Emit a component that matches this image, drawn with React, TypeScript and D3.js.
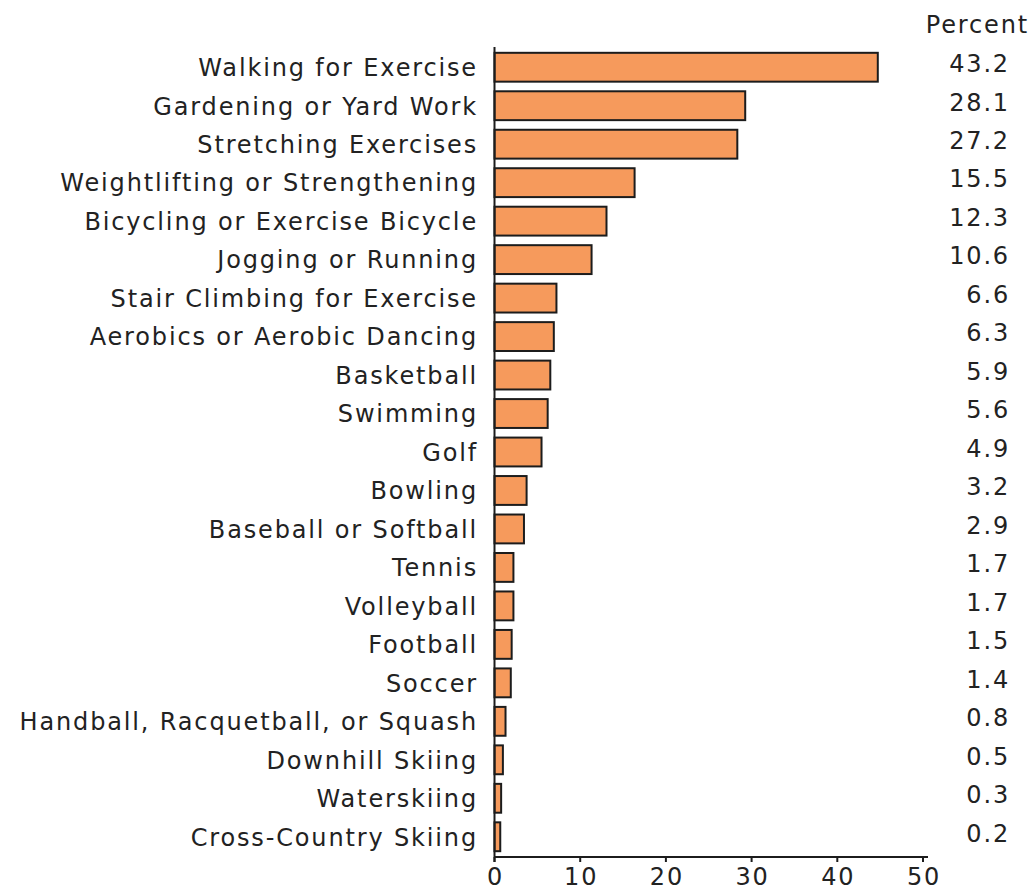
import React from "react";
import * as d3 from "d3";

const categories = [
  "Walking for Exercise",
  "Gardening or Yard Work",
  "Stretching Exercises",
  "Weightlifting or Strengthening",
  "Bicycling or Exercise Bicycle",
  "Jogging or Running",
  "Stair Climbing for Exercise",
  "Aerobics or Aerobic Dancing",
  "Basketball",
  "Swimming",
  "Golf",
  "Bowling",
  "Baseball or Softball",
  "Tennis",
  "Volleyball",
  "Football",
  "Soccer",
  "Handball, Racquetball, or Squash",
  "Downhill Skiing",
  "Waterskiing",
  "Cross-Country Skiing",
];

const percents = [43.2, 28.1, 27.2, 15.5, 12.3, 10.6, 6.6, 6.3, 5.9, 5.6, 4.9, 3.2, 2.9, 1.7, 1.7, 1.5, 1.4, 0.8, 0.5, 0.3, 0.2];

const xTicks = [0, 10, 20, 30, 40, 50];
const valueHeader = "Percent";

const W = 1032;
const H = 887;
const X0 = 494.5;
const AXIS_Y = 857;
const FONT = "'DejaVu Sans', Verdana, sans-serif";
const FS = 24;
const LS = 1.85;

export default function App() {
  const x = d3.scaleLinear().domain([0, 50]).range([X0, 923]);
  // bar lengths in the source are drawn with a small offset relative to the axis
  const barLen = d3.scaleLinear().domain([0, 50]).range([4, 443]);
  const y = d3
    .scaleBand<string>()
    .domain(categories)
    .range([48, 856])
    .paddingInner(0.25)
    .paddingOuter(0.125);

  const textProps = { fontSize: FS, letterSpacing: LS, fill: "#222" };

  return (
    <svg
      width={W}
      height={H}
      style={{ position: "absolute", left: 0, top: 0, background: "#fff" }}
      fontFamily={FONT}
    >
      <rect x={0} y={0} width={W} height={H} fill="#ffffff" />
      <text x={1029} y={33} textAnchor="end" {...textProps}>
        {valueHeader}
      </text>
      {categories.map((c, i) => {
        const yc = (y(c) as number) + y.bandwidth() / 2;
        return (
          <g key={c}>
            <rect
              x={X0}
              y={y(c) as number}
              width={barLen(percents[i])}
              height={y.bandwidth()}
              fill="#f69a5c"
              stroke="#1c1c1c"
              strokeWidth={2}
            />
            <text x={478} y={yc + 8.8} textAnchor="end" {...textProps}>
              {c}
            </text>
            <text x={1010} y={yc + 4.8} textAnchor="end" {...textProps}>
              {percents[i].toFixed(1)}
            </text>
          </g>
        );
      })}
      <line x1={X0} x2={X0} y1={47} y2={862} stroke="#1c1c1c" strokeWidth={2} />
      <line x1={X0} x2={928} y1={AXIS_Y} y2={AXIS_Y} stroke="#1c1c1c" strokeWidth={2} />
      {xTicks.map((t) => (
        <g key={t}>
          <line x1={x(t)} x2={x(t)} y1={AXIS_Y} y2={AXIS_Y + 5} stroke="#1c1c1c" strokeWidth={2} />
          <text x={x(t) + 1} y={885} textAnchor="middle" {...textProps}>
            {t}
          </text>
        </g>
      ))}
    </svg>
  );
}
